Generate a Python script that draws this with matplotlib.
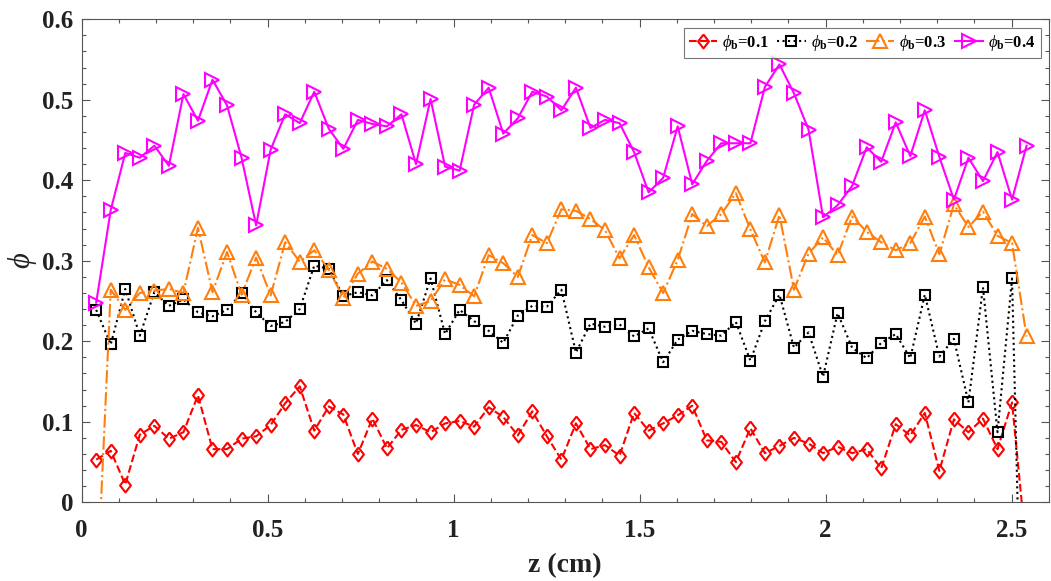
import numpy as np
import matplotlib
matplotlib.use('Agg')
import matplotlib.pyplot as plt
from matplotlib.ticker import MultipleLocator

plt.rcParams['font.family'] = ['Liberation Serif', 'DejaVu Serif']
plt.rcParams['mathtext.fontset'] = 'custom'
plt.rcParams['mathtext.rm'] = 'Liberation Serif'
plt.rcParams['mathtext.it'] = 'Liberation Serif:italic'
plt.rcParams['mathtext.bf'] = 'Liberation Serif:bold'

# axial positions (65 samples over 2.54 cm)
z = np.arange(1, 66) * 2.54 / 65

phi_01 = [0.053, 0.064, 0.022, 0.084, 0.095, 0.079, 0.087, 0.133, 0.066, 0.066,
          0.079, 0.082, 0.096, 0.123, 0.144, 0.089,
          0.119, 0.109, 0.060, 0.104, 0.067, 0.090, 0.096, 0.087, 0.098, 0.101,
          0.094, 0.118, 0.106, 0.083, 0.113, 0.082,
          0.053, 0.098, 0.066, 0.071, 0.058, 0.111, 0.089, 0.098, 0.108, 0.120,
          0.077, 0.075, 0.050, 0.092, 0.061, 0.070,
          0.080, 0.073, 0.061, 0.069, 0.061, 0.066, 0.042, 0.097, 0.083, 0.111,
          0.039, 0.103, 0.087, 0.104, 0.066, 0.124, -0.062]

phi_02 = [0.239, 0.196, 0.265, 0.207, 0.261, 0.244, 0.252, 0.236, 0.231, 0.239,
          0.260, 0.236, 0.219, 0.224, 0.240, 0.294,
          0.290, 0.256, 0.261, 0.257, 0.276, 0.251, 0.222, 0.278, 0.209, 0.239,
          0.225, 0.213, 0.198, 0.232, 0.244, 0.243,
          0.264, 0.186, 0.222, 0.218, 0.221, 0.206, 0.216, 0.174, 0.202, 0.213,
          0.209, 0.207, 0.224, 0.176, 0.225, 0.258,
          0.192, 0.211, 0.156, 0.235, 0.192, 0.179, 0.198, 0.209, 0.179, 0.258,
          0.181, 0.203, 0.124, 0.267, 0.087, 0.278, -0.45]

phi_03 = [-0.13, 0.264, 0.239, 0.260, 0.263, 0.265, 0.260, 0.341, 0.261, 0.311,
          0.258, 0.304, 0.257, 0.323, 0.299, 0.313,
          0.289, 0.254, 0.284, 0.299, 0.290, 0.273, 0.244, 0.250, 0.277, 0.270,
          0.256, 0.307, 0.297, 0.280, 0.332, 0.322,
          0.364, 0.362, 0.352, 0.338, 0.303, 0.332, 0.292, 0.260, 0.301, 0.358,
          0.343, 0.358, 0.384, 0.339, 0.298, 0.357,
          0.264, 0.309, 0.329, 0.307, 0.355, 0.336, 0.323, 0.313, 0.322, 0.355,
          0.308, 0.370, 0.342, 0.361, 0.331, 0.322, 0.206]

phi_04 = [0.248, 0.363, 0.434, 0.428, 0.443, 0.418, 0.507, 0.474, 0.525, 0.493,
          0.428, 0.344, 0.438, 0.482, 0.471, 0.510,
          0.464, 0.439, 0.475, 0.470, 0.467, 0.482, 0.420, 0.501, 0.417, 0.412,
          0.494, 0.515, 0.458, 0.477, 0.510, 0.504,
          0.487, 0.515, 0.465, 0.475, 0.471, 0.435, 0.385, 0.403, 0.467, 0.395,
          0.424, 0.446, 0.446, 0.446, 0.516, 0.544,
          0.508, 0.463, 0.354, 0.369, 0.393, 0.441, 0.423, 0.472, 0.430, 0.487,
          0.429, 0.376, 0.428, 0.399, 0.435, 0.376, 0.443]

labels = [r'$\phi_\mathbf{b}$=0.1', r'$\phi_\mathbf{b}$=0.2',
          r'$\phi_\mathbf{b}$=0.3', r'$\phi_\mathbf{b}$=0.4']

diamond = [(0, 1), (0.78, 0), (0, -1), (-0.78, 0), (0, 1)]

fig = plt.figure(figsize=(10.51, 5.81), dpi=100)
ax = fig.add_axes([0.0777, 0.1355, 0.9203, 0.8313])

ax.plot(z, phi_01, color='#FF0000', ls='--', lw=1.5, marker=diamond, ms=10,
        mfc='none', mew=1.5, label=labels[0])
ax.plot(z, phi_02, color='black', ls=':', lw=1.5, marker='s', ms=6.5,
        mfc='none', mew=1.5, label=labels[1])
ax.plot(z, phi_03, color='#FF7F0E', ls='-.', lw=1.5, marker='^', ms=10,
        mfc='none', mew=1.5, label=labels[2])
ax.plot(z, phi_04, color='#FF00FF', ls='-', lw=1.5, marker='>', ms=10,
        mfc='none', mew=1.5, label=labels[3])

ax.set_xlim(0, 2.6)
ax.set_ylim(0, 0.6)
ax.set_xticks([0, 0.5, 1, 1.5, 2, 2.5])
ax.set_xticklabels(['0', '0.5', '1', '1.5', '2', '2.5'])
ax.set_yticks([0, 0.1, 0.2, 0.3, 0.4, 0.5, 0.6])
ax.set_yticklabels(['0', '0.1', '0.2', '0.3', '0.4', '0.5', '0.6'])
ax.xaxis.set_minor_locator(MultipleLocator(0.1))
ax.yaxis.set_minor_locator(MultipleLocator(0.02))

gray = '#555555'
ax.tick_params(which='both', direction='in', top=True, right=True, colors=gray,
               labelcolor='#222222', labelsize=18, width=0.8)
ax.tick_params(which='major', length=6)
ax.tick_params(which='minor', length=3)
ax.tick_params(axis='x', pad=12)
ax.tick_params(axis='y', pad=6)
for lab in ax.get_xticklabels() + ax.get_yticklabels():
    lab.set_fontweight('bold')
for s in ax.spines.values():
    s.set_color(gray)
    s.set_linewidth(0.8)

ax.set_xlabel('z (cm)', fontsize=20, fontweight='bold', color='#222222', labelpad=8)
ax.set_ylabel(r'$\phi$', fontsize=22, color='#222222', labelpad=2)

leg = ax.legend(loc='upper right', ncol=4, prop={'weight': 'bold', 'size': 12},
                frameon=True, fancybox=False, edgecolor=gray, borderaxespad=0.5,
                handlelength=1.7, columnspacing=0.5, handletextpad=0.3,
                borderpad=0.3)
leg.get_frame().set_linewidth(0.8)

fig.savefig('out.png', dpi=100)
